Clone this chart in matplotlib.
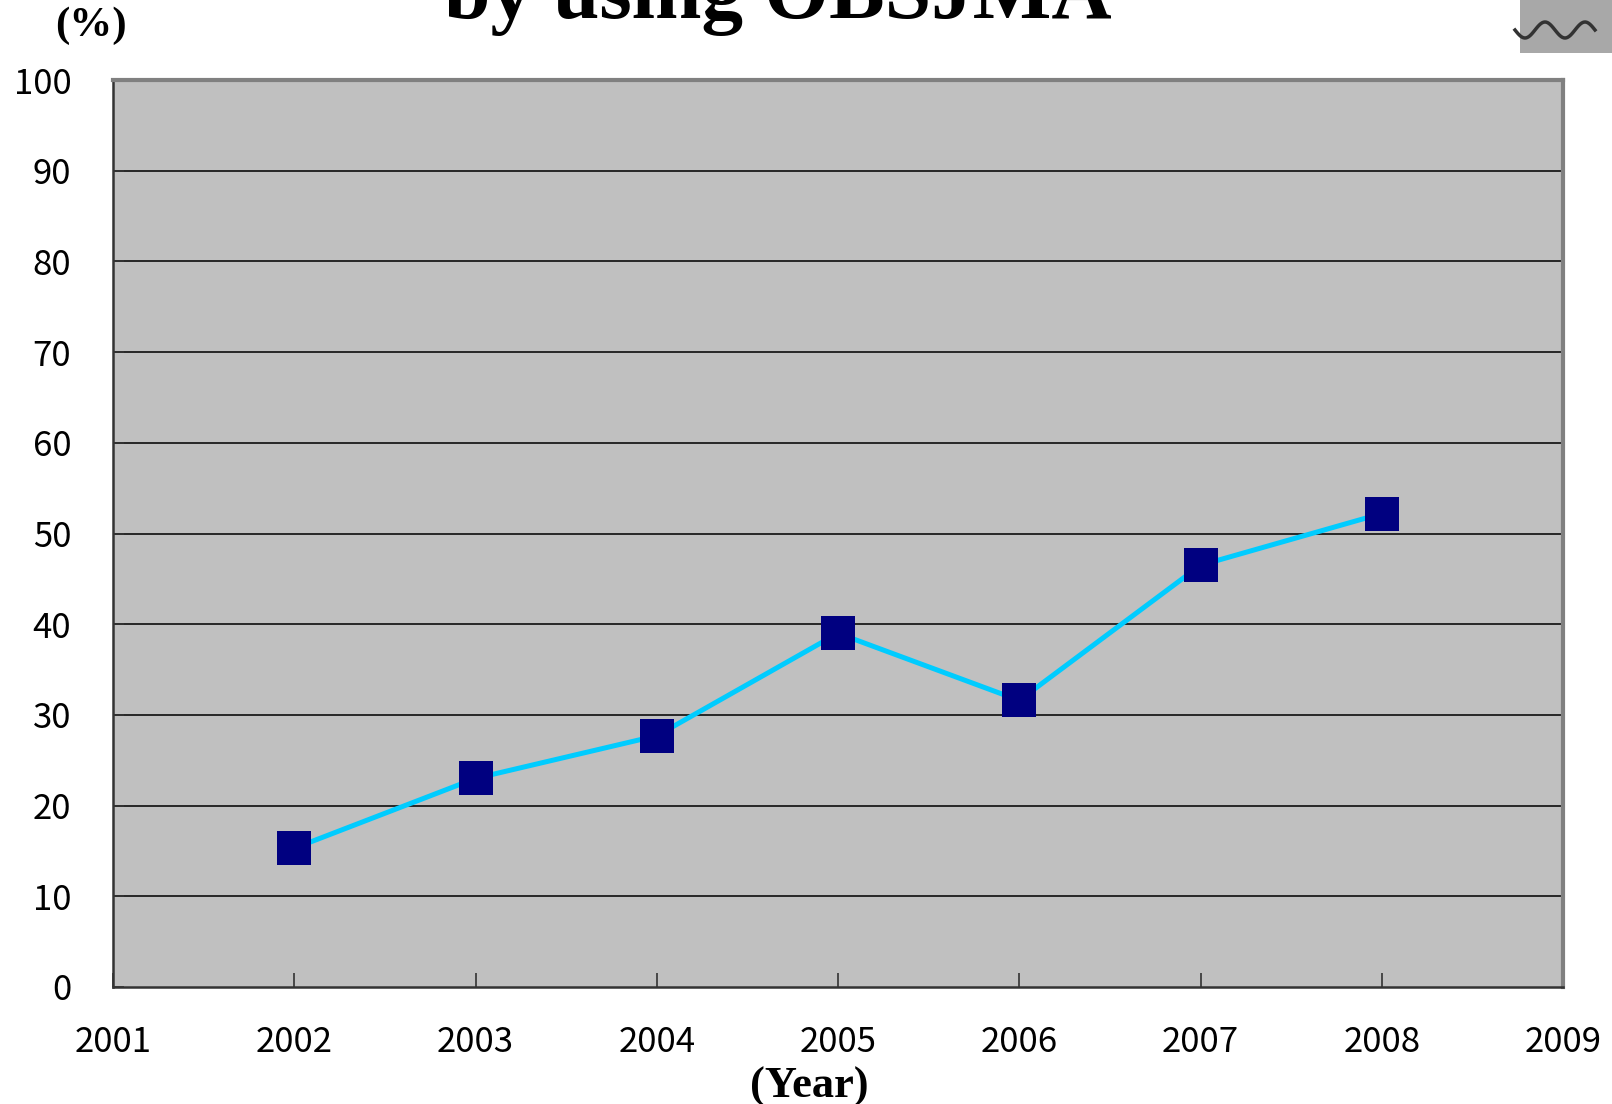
import numpy as np
import matplotlib
matplotlib.use('Agg')
import matplotlib.pyplot as plt
from matplotlib.patches import Rectangle

# chart data
years = [2002, 2003, 2004, 2005, 2006, 2007, 2008]
values = [15.3, 23.0, 27.7, 39.0, 31.6, 46.5, 52.2]
x_ticks = [2001, 2002, 2003, 2004, 2005, 2006, 2007, 2008, 2009]
y_ticks = [0, 10, 20, 30, 40, 50, 60, 70, 80, 90, 100]

title_text = 'by using OBSJMA'
x_label = '(Year)'
y_label = '(%)'

tick_font = ['Noto Sans CJK JP', 'DejaVu Sans']
serif_font = ['Liberation Serif', 'DejaVu Serif']

fig = plt.figure(figsize=(16.12, 11.04), dpi=100)
ax = fig.add_axes([113 / 1612, 1 - 987 / 1104, (1563 - 113) / 1612, (987 - 80) / 1104])
ax.set_facecolor('#C0C0C0')

# gridlines
for v in y_ticks[1:-1]:
    ax.axhline(v, color='#1a1a1a', lw=1.3, zorder=1)

# series
ax.plot(years, values, color='#00CCFF', lw=3.6, zorder=3)
ax.plot(years, values, ls='none', marker='s', ms=24.5, color='#000080',
        markeredgewidth=0, zorder=4)

ax.set_xlim(2001, 2009)
ax.set_ylim(0, 100)
ax.set_xticks(x_ticks)
ax.set_yticks(y_ticks)
ax.set_xticklabels([str(t) for t in x_ticks], fontfamily=tick_font, fontsize=25)
ax.set_yticklabels([str(t) for t in y_ticks], fontfamily=tick_font, fontsize=25)
ax.tick_params(axis='x', direction='in', length=10, width=1.2, color='#333333', pad=27)
ax.tick_params(axis='y', direction='in', length=8, width=1.2, color='#333333', pad=30)

ax.spines['left'].set_color('#333333')
ax.spines['bottom'].set_color('#333333')
ax.spines['left'].set_linewidth(1.8)
ax.spines['bottom'].set_linewidth(1.8)
ax.spines['top'].set_color('#808080')
ax.spines['right'].set_color('#808080')
ax.spines['top'].set_linewidth(3)
ax.spines['right'].set_linewidth(3)

# axis labels and (cut off) title
fig.text(809 / 1612, 1 - 1087 / 1104, x_label, ha='center', va='center',
         fontfamily=serif_font, fontweight='bold', fontsize=32)
fig.text(91 / 1612, 1 - 26 / 1104, y_label, ha='center', va='center',
         fontfamily=serif_font, fontweight='bold', fontsize=31)
fig.text(778 / 1612, 1 - 18 / 1104, title_text, ha='center', va='baseline',
         fontfamily=serif_font, fontweight='bold', fontsize=60)

# decorative clip-art corner
fig.patches.append(Rectangle((1520 / 1612, 1 - 53 / 1104), 92 / 1612, 53 / 1104,
                             transform=fig.transFigure, facecolor='#A8A8A8',
                             edgecolor='none'))
t = np.linspace(0, 1, 60)
fig.add_artist(plt.Line2D((1515 + 80 * t) / 1612,
                          1 - (30 + 8 * np.sin(t * 4 * np.pi)) / 1104,
                          transform=fig.transFigure, color='#333333', lw=2.5))

fig.savefig('out.png', dpi=100)
